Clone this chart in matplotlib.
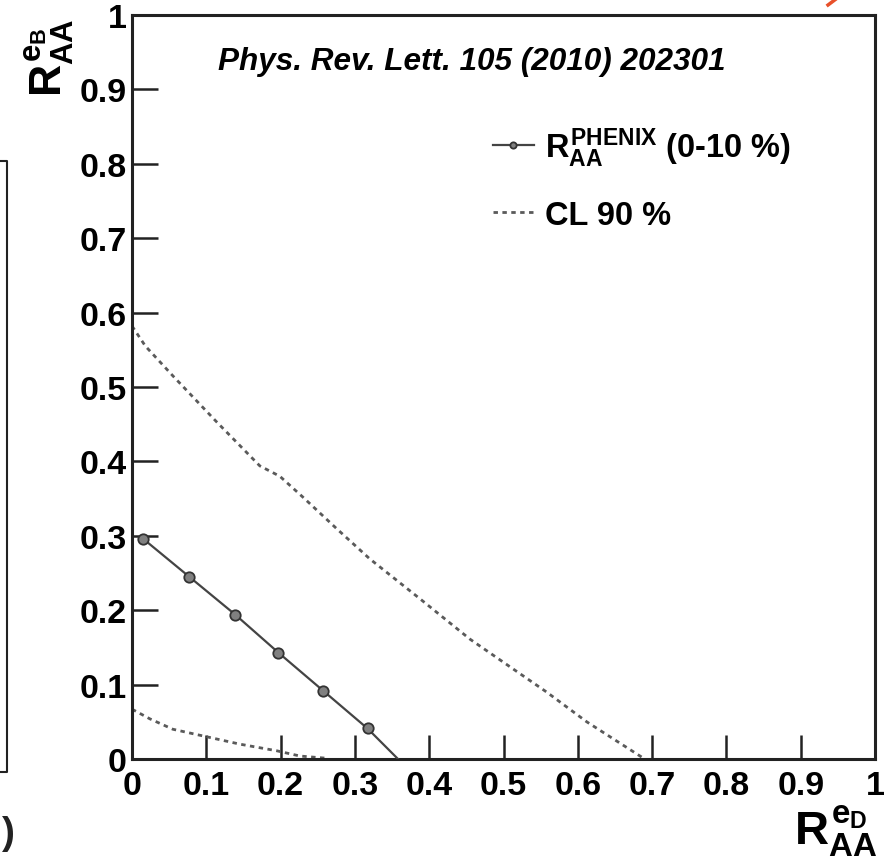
import matplotlib
matplotlib.use("Agg")
import matplotlib.pyplot as plt
from matplotlib.lines import Line2D

plt.rcParams['font.family'] = ['Liberation Sans', 'DejaVu Sans']
plt.rcParams['mathtext.fontset'] = 'custom'
plt.rcParams['mathtext.rm'] = 'Liberation Sans:bold'
plt.rcParams['mathtext.it'] = 'Liberation Sans:bold'
plt.rcParams['mathtext.bf'] = 'Liberation Sans:bold'
plt.rcParams['mathtext.sf'] = 'Liberation Sans:bold'

# PHENIX 0-10 % constraint line (R_AA of e from D vs e from B)
phenix_x = [0.015, 0.077, 0.139, 0.197, 0.257, 0.317, 0.358]
phenix_y = [0.296, 0.245, 0.194, 0.143, 0.092, 0.041, 0.0]
n_points = 6

# 90 % confidence level contours
cl_up_x = [0.0, 0.018, 0.055, 0.114, 0.172, 0.199, 0.230, 0.275, 0.320,
           0.388, 0.455, 0.513, 0.558, 0.612, 0.690]
cl_up_y = [0.582, 0.555, 0.515, 0.453, 0.394, 0.380, 0.352, 0.310, 0.269,
           0.215, 0.161, 0.121, 0.090, 0.050, 0.0]
cl_lo_x = [0.0, 0.024, 0.055, 0.100, 0.145, 0.195, 0.226, 0.262]
cl_lo_y = [0.067, 0.054, 0.040, 0.030, 0.020, 0.011, 0.004, 0.001]

ticks = [0, 0.1, 0.2, 0.3, 0.4, 0.5, 0.6, 0.7, 0.8, 0.9, 1]
tick_labels = ['0', '0.1', '0.2', '0.3', '0.4', '0.5', '0.6', '0.7', '0.8', '0.9', '1']

fig = plt.figure(figsize=(8.94, 8.62), dpi=100)
ax = fig.add_axes([132 / 894, 102 / 862, 743 / 894, 744 / 862])

ax.plot(phenix_x, phenix_y, color='#444444', lw=1.6, marker='o', ms=7.5,
        mfc='#808080', mec='#333333', mew=1.3, markevery=list(range(n_points)),
        label=r'$R_{AA}^{PHENIX}$ (0-10 %)', zorder=3)
dash = (0, (1.6, 1.6))
ax.plot(cl_up_x, cl_up_y, color='#5a5a5a', lw=2.0, linestyle=dash, label='CL 90 %')
ax.plot(cl_lo_x, cl_lo_y, color='#5a5a5a', lw=2.0, linestyle=dash)

ax.set_xlim(0, 1)
ax.set_ylim(0, 1)
ax.set_xticks(ticks)
ax.set_xticklabels(tick_labels)
ax.set_yticks(ticks)
ax.set_yticklabels(tick_labels)
ax.tick_params(direction='in', length=17, width=1.8, top=False, right=False,
               labelsize=24.5, color='#222222')
ax.tick_params(axis='y', pad=4, length=19)
ax.tick_params(axis='x', pad=8)
for lab in ax.get_xticklabels() + ax.get_yticklabels():
    lab.set_fontweight('bold')
for sp in ax.spines.values():
    sp.set_linewidth(2.2)
    sp.set_color('#222222')

ax.text(0.1157, 0.927, 'Phys. Rev. Lett. 105 (2010) 202301', transform=ax.transAxes,
        fontsize=22.7, fontweight='bold', fontstyle='italic', ha='left', va='baseline')

leg = ax.legend(loc='upper left', bbox_to_anchor=(0.486, 0.852), frameon=False,
                fontsize=23.5, handlelength=1.25, handletextpad=0.35, labelspacing=0.95,
                borderpad=0, borderaxespad=0, markerscale=0.6)
for t in leg.get_texts():
    t.set_fontweight('bold')

# axis titles in the ROOT style
fig.text(877 / 894, 1 - 860 / 862, r'$R^{e_D}_{AA}$', fontsize=34, ha='right', va='bottom')
fig.text(49 / 894, 1 - 58 / 862, r'$R^{e_B}_{AA}$', fontsize=32, rotation=90,
         ha='center', va='center')

# edge of the neighbouring panel and its caption bracket
fig.add_artist(Line2D([0, 7 / 894, 7 / 894, 0],
                      [1 - 162 / 862, 1 - 162 / 862, 1 - 773 / 862, 1 - 773 / 862],
                      color='#222222', lw=1.5))
fig.text(0.002, 1 - 834 / 862, ')', fontsize=28, fontweight='bold', ha='left',
         va='center', color='#222222')
fig.add_artist(Line2D([828 / 894, 836 / 894], [1 - 6 / 862, 1.0], color='#e8502a', lw=2.5))

fig.savefig('out.png', dpi=100, facecolor='white')
